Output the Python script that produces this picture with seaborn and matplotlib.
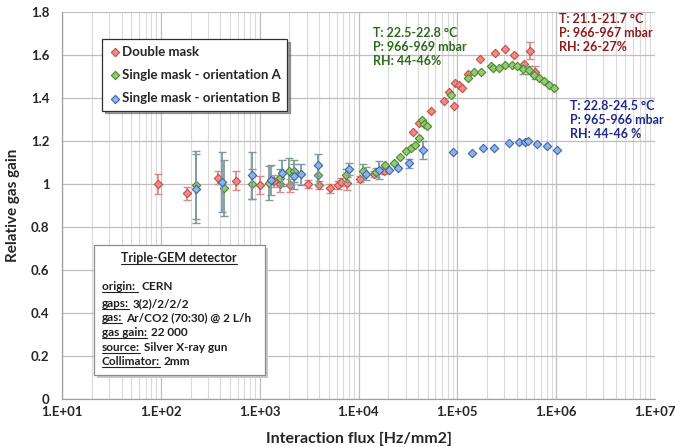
import numpy as np
import matplotlib
matplotlib.use("Agg")
import matplotlib.pyplot as plt
import seaborn as sns
from matplotlib.ticker import LogLocator, FixedLocator, FuncFormatter, NullFormatter
from matplotlib.patches import Rectangle
from matplotlib.lines import Line2D

# ---------------- data ----------------
double_x = [94, 185, 380, 582, 1000, 1410, 1620, 2030, 3100, 3970, 5100, 6160, 6650, 7600,
            10400, 14300, 18000, 36000, 41300, 54200, 72800, 81700, 91800, 95500, 103000,
            111000, 127000, 170000, 242000, 305000, 377000, 475000, 546000, 617000]
double_y = [1.00, 0.957, 1.03, 1.015, 0.995, 1.014, 1.0, 0.995, 1.0, 0.995, 0.98, 0.995, 1.01, 1.003,
            1.023, 1.047, 1.062, 1.243, 1.282, 1.34, 1.386, 1.43, 1.363, 1.468, 1.46,
            1.448, 1.512, 1.58, 1.611, 1.627, 1.60, 1.56, 1.62, 1.52]
double_err = [0.045, 0.03, 0.03, 0.045, 0.04, 0.03, 0.035, 0.03, 0.02, 0.02, 0.02, 0.02, 0.02, 0.03,
              0.015, 0.015, 0.015, 0, 0, 0, 0, 0, 0, 0, 0,
              0, 0, 0, 0, 0, 0, 0, 0.04, 0.03]

singleA_x = [229, 433, 830, 1240, 1600, 2000, 2220, 3900, 7500, 11000, 15100, 18700, 22700,
             26600, 30300, 33700, 37700, 40700, 44000, 46400, 49400, 86300, 129000, 147000,
             174000, 218000, 228000, 265000, 303000, 355000, 400000, 457000, 525000, 600000,
             678000, 760000, 851000, 940000]
singleA_y = [0.995, 0.98, 1.0, 1.006, 1.03, 1.06, 1.06, 1.042, 1.04, 1.062, 1.054, 1.09, 1.10,
             1.124, 1.153, 1.169, 1.181, 1.212, 1.298, 1.279, 1.271, 1.414, 1.494, 1.52,
             1.52, 1.55, 1.54, 1.54, 1.553, 1.553, 1.548, 1.533, 1.53, 1.507,
             1.492, 1.479, 1.46, 1.445]
singleA_err = [0.16, 0.13, 0.07, 0.08, 0.04, 0.06, 0.05, 0.04, 0.03, 0.03, 0.02, 0, 0,
               0, 0, 0, 0, 0, 0, 0, 0, 0, 0, 0,
               0, 0, 0, 0, 0, 0, 0, 0.02, 0.02, 0,
               0, 0, 0, 0]

singleB_x = [229, 417, 830, 1290, 1700, 2200, 2650, 3900, 8000, 12000, 16000, 20500, 24900,
             32700, 44700, 89700, 140000, 183000, 233000, 330000, 423000, 486000, 517000,
             638000, 805000, 1030000]
singleB_y = [0.978, 1.01, 1.04, 1.02, 1.05, 1.035, 1.045, 1.088, 1.07, 1.047, 1.065, 1.065, 1.073,
             1.096, 1.158, 1.147, 1.143, 1.166, 1.166, 1.189, 1.197, 1.197, 1.20,
             1.186, 1.178, 1.158]
singleB_err = [0.16, 0.14, 0.11, 0.07, 0.06, 0.06, 0.05, 0.05, 0.03, 0.03, 0.04, 0, 0,
               0.02, 0.04, 0, 0, 0, 0, 0, 0, 0, 0,
               0, 0, 0]

series_names = ["Double mask", "Single mask - orientation A", "Single mask - orientation B"]
x_ticks = [1e1, 1e2, 1e3, 1e4, 1e5, 1e6, 1e7]
x_tick_labels = ["1.E+01", "1.E+02", "1.E+03", "1.E+04", "1.E+05", "1.E+06", "1.E+07"]
y_ticks = [0, 0.2, 0.4, 0.6, 0.8, 1.0, 1.2, 1.4, 1.6, 1.8]

# ---------------- style ----------------
sns.set_style("white")
plt.rcParams["font.family"] = ["Lato", "DejaVu Sans"]
plt.rcParams["font.weight"] = "bold"

W, H = 675, 447
fig = plt.figure(figsize=(W / 100, H / 100), dpi=100)
L, R, T, B = 62, 655, 12, 399
ax = fig.add_axes([L / W, 1 - B / H, (R - L) / W, (B - T) / H])

face = ["#F28A82", "#96C87A", "#8EB3E6"]
edge = ["#C0504D", "#4A8A2C", "#3B66B0"]
ecol = ["#DB8A8A", "#7E9F86", "#7F97AA"]

datasets = [(double_x, double_y, double_err),
            (singleA_x, singleA_y, singleA_err),
            (singleB_x, singleB_y, singleB_err)]

for i, (xs, ys, es) in enumerate(datasets):
    xs = np.asarray(xs, float); ys = np.asarray(ys, float); es = np.asarray(es, float)
    m = es > 0
    ax.errorbar(xs[m], ys[m], yerr=es[m], fmt="none", ecolor=ecol[i], elinewidth=1.3,
                capsize=3, capthick=1.0, zorder=2 + i * 2)
    sns.scatterplot(x=xs, y=ys, marker="D", s=18, color=face[i], edgecolor=edge[i],
                    linewidth=0.8, ax=ax, zorder=3 + i * 2, label=series_names[i])

ax.set_xscale("log")
ax.set_xlim(1e1, 1e7)
ax.set_ylim(0, 1.8)
ax.xaxis.set_major_locator(FixedLocator(x_ticks))
ax.xaxis.set_major_formatter(FuncFormatter(lambda v, p: x_tick_labels[int(round(np.log10(v))) - 1]))
ax.xaxis.set_minor_locator(LogLocator(base=10, subs=np.arange(2, 10)))
ax.xaxis.set_minor_formatter(NullFormatter())
ax.yaxis.set_major_locator(FixedLocator(y_ticks))
ax.yaxis.set_major_formatter(FuncFormatter(lambda v, p: f"{v:g}"))

ax.grid(which="major", color="#BFBFBF", lw=0.9, zorder=0)
ax.grid(which="minor", axis="x", color="#DADADA", lw=0.8, zorder=0)
ax.set_axisbelow(True)
for s in ["top", "right"]:
    ax.spines[s].set_visible(False)
for s in ["left", "bottom"]:
    ax.spines[s].set_color("#A0A0A0")
    ax.spines[s].set_linewidth(0.9)
ax.tick_params(axis="y", which="major", length=4, color="#A0A0A0", labelsize=9.5, pad=5)
ax.tick_params(axis="x", which="major", length=0, color="#A0A0A0", labelsize=9.5, pad=5)
ax.tick_params(axis="x", which="minor", length=0)
for lab in ax.get_xticklabels() + ax.get_yticklabels():
    lab.set_fontweight("bold")

ax.set_xlabel("Interaction flux [Hz/mm2]", fontsize=11.5, fontweight="bold", labelpad=10)
ax.set_ylabel("Relative gas gain", fontsize=11, fontweight="bold", labelpad=8)

leg = ax.legend(loc="upper left", bbox_to_anchor=((102 - L) / (R - L), (B - 39) / (B - T)),
                borderaxespad=0, frameon=True, fancybox=False, shadow=True,
                prop={"weight": "bold", "size": 9.5}, handletextpad=0.0,
                labelspacing=0.85, borderpad=0.5, markerscale=1.0, handlelength=1.0)
leg.get_frame().set_edgecolor("#303030")
leg.get_frame().set_linewidth(0.9)

# ---------------- annotations ----------------
def fx(px):
    return px / W

def fy(py):
    return 1 - py / H

fig.text(fx(373), fy(27), "T: 22.5-22.8 °C\nP: 966-969 mbar\nRH: 44-46%", color="#2D6A1E",
         fontsize=9, fontweight="bold", va="top", ha="left", linespacing=1.2)
fig.text(fx(559), fy(13), "T: 21.1-21.7 °C\nP: 966-967 mbar\nRH: 26-27%", color="#8B1C1C",
         fontsize=9, fontweight="bold", va="top", ha="left", linespacing=1.2)
fig.text(fx(570), fy(100), "T: 22.8-24.5 °C\nP: 965-966 mbar\nRH: 44-46 %", color="#1F2A8A",
         fontsize=9, fontweight="bold", va="top", ha="left", linespacing=1.2)

# detector info box
bx0, by0, bx1, by1 = 94, 245, 265, 375
fig.add_artist(Rectangle((fx(bx0 + 3), fy(by1 + 3)), (bx1 - bx0) / W, (by1 - by0) / H,
                         transform=fig.transFigure, facecolor="#C8C8C8", edgecolor="none", zorder=9))
fig.add_artist(Rectangle((fx(bx0), fy(by1)), (bx1 - bx0) / W, (by1 - by0) / H,
                         transform=fig.transFigure, facecolor="white", edgecolor="#8C8C8C",
                         lw=0.9, zorder=10))

renderer = fig.canvas.get_renderer()
fs = 8.5

def underline(t, color="#202020"):
    bb = t.get_window_extent(renderer)
    ybase = t.get_position()[1] * H - 2.0
    fig.add_artist(Line2D([bb.x0 / W, bb.x1 / W], [ybase / H, ybase / H],
                          transform=fig.transFigure, color=color, lw=0.8, zorder=12))
    return bb

t = fig.text(fx(179.3), fy(262), "Triple-GEM detector", fontsize=9, fontweight="bold",
             ha="center", va="baseline", color="#202020", zorder=11)
underline(t)

info_lines = [("origin: ", "CERN"), ("gaps:", "3(2)/2/2/2"), ("gas:", "Ar/CO2 (70:30) @ 2 L/h"),
              ("gas gain:", "22 000"), ("source:", "Silver X-ray gun"), ("Collimator:", "2mm")]
centers = [286.7, 303.3, 317.3, 332.3, 347.3, 361.7]
for (lab, val), cy in zip(info_lines, centers):
    t = fig.text(fx(101.7), fy(cy + 3.5), lab, fontsize=fs, fontweight="bold", ha="left",
                 va="baseline", color="#202020", zorder=11)
    bb = underline(t)
    fig.text((bb.x1 + 4) / W, fy(cy + 3.5), val, fontsize=fs, fontweight="bold", ha="left",
             va="baseline", color="#202020", zorder=11)

fig.savefig("out.png", dpi=100, facecolor="white")
